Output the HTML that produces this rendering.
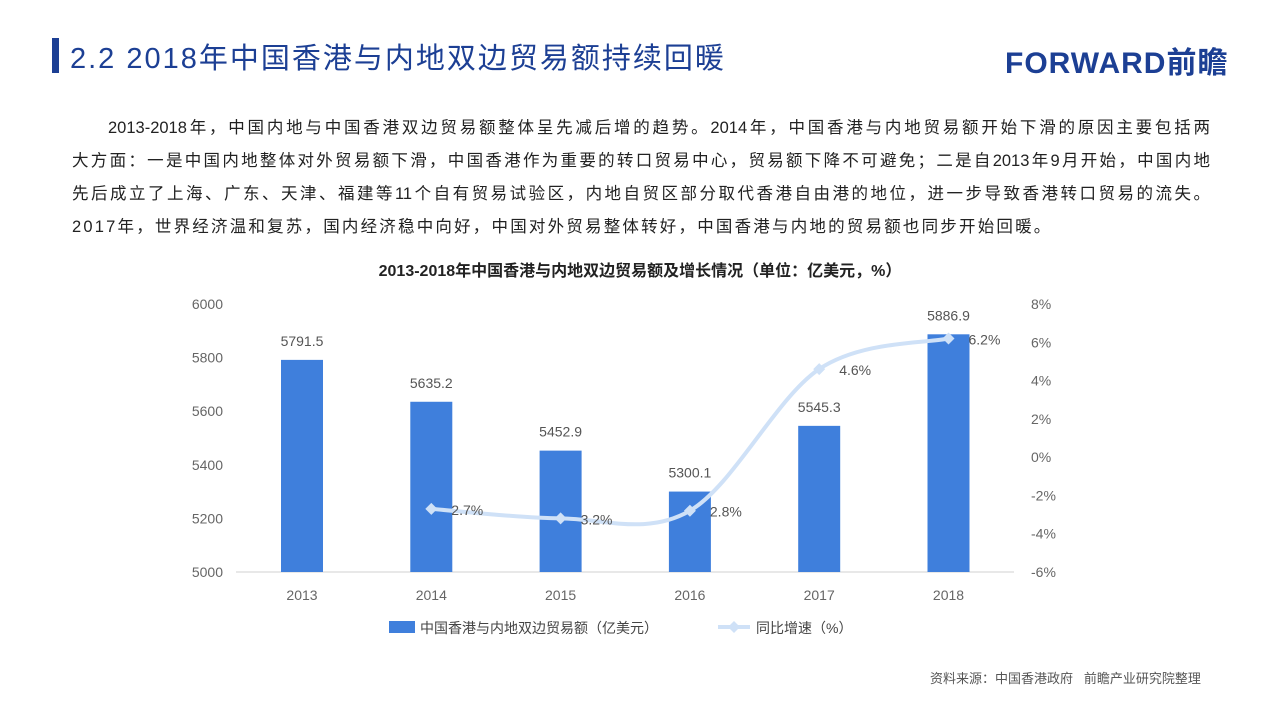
<!DOCTYPE html>
<html><head><meta charset="utf-8">
<style>
body{margin:0;width:1280px;height:705px;background:#fff;overflow:hidden;position:relative;font-family:"Liberation Sans","Noto Sans CJK SC",sans-serif;}
.p{position:absolute;left:72px;width:1138px;font-size:16.5px;color:#222;line-height:33px;top:112px;}
.p div{white-space:nowrap;text-align:justify;text-align-last:justify;}
.p div.last{text-align-last:left;letter-spacing:2.2px;}
</style></head><body>
<div style="position:absolute;left:52px;top:38px;width:7px;height:35px;background:#1c3f94"></div>
<div style="position:absolute;left:70px;top:35px;font-size:29px;color:#1c3f94;letter-spacing:2px;font-family:'Liberation Sans','Noto Sans CJK SC',sans-serif">2.2 2018年中国香港与内地双边贸易额持续回暖</div>
<div style="position:absolute;left:1005px;top:38px;font-size:30px;font-weight:bold;color:#1c3f94;letter-spacing:1px">FORWARD前瞻</div>
<div class="p">
<div style="padding-left:36px">2013-2018年，中国内地与中国香港双边贸易额整体呈先减后增的趋势。2014年，中国香港与内地贸易额开始下滑的原因主要包括两</div>
<div>大方面：一是中国内地整体对外贸易额下滑，中国香港作为重要的转口贸易中心，贸易额下降不可避免；二是自2013年9月开始，中国内地</div>
<div>先后成立了上海、广东、天津、福建等11个自有贸易试验区，内地自贸区部分取代香港自由港的地位，进一步导致香港转口贸易的流失。</div>
<div class="last">2017年，世界经济温和复苏，国内经济稳中向好，中国对外贸易整体转好，中国香港与内地的贸易额也同步开始回暖。</div>
</div>
<div style="position:absolute;left:930px;top:668px;font-size:13px;color:#555">资料来源：中国香港政府&nbsp;&nbsp;&nbsp;前瞻产业研究院整理</div>
<svg id="c" width="1280" height="705" style="position:absolute;left:0;top:0"></svg>
<script>
const categories=["2013","2014","2015","2016","2017","2018"];
const tradeValues=[5791.5,5635.2,5452.9,5300.1,5545.3,5886.9];
const growthCats=["2014","2015","2016","2017","2018"];
const growthValues=[-2.7,-3.2,-2.8,4.6,6.2];
const leftTicks=[5000,5200,5400,5600,5800,6000];
const rightTicks=[-6,-4,-2,0,2,4,6,8];
const svg=document.getElementById('c');
const NS='http://www.w3.org/2000/svg';
function mk(t,a,txt){const e=document.createElementNS(NS,t);for(const k in a)e.setAttribute(k,a[k]);if(txt!==undefined)e.textContent=txt;svg.appendChild(e);return e;}
const x0=302,step=129.3,yTop=304,yBot=572;
const xs=i=>x0+i*step;
const yL=v=>yBot-(v-5000)/1000*(yBot-yTop);
const yR=v=>yBot-(v+6)/14*(yBot-yTop);
const F='"Liberation Sans","Noto Sans CJK SC",sans-serif';
let t=mk('text',{x:640,y:276,'text-anchor':'middle','font-size':16,'font-weight':'bold',fill:'#222','font-family':F},'2013-2018年中国香港与内地双边贸易额及增长情况（单位：亿美元，%）');


mk('line',{x1:236,x2:1014,y1:yBot,y2:yBot,stroke:'#d0d0d0'});
leftTicks.forEach(v=>{const e=mk('text',{x:223,y:yL(v)+5,'text-anchor':'end','font-size':14,fill:'#666','font-family':F},v);

});
rightTicks.forEach(v=>{const e=mk('text',{x:1031,y:yR(v)+5,'font-size':14,fill:'#666','font-family':F},v+'%');

});
categories.forEach((c,i)=>{
const b=mk('rect',{x:xs(i)-21,y:yL(tradeValues[i]),width:42,height:yBot-yL(tradeValues[i]),fill:'#3f7fdc'});


const l=mk('text',{x:xs(i),y:yL(tradeValues[i])-14,'text-anchor':'middle','font-size':14,fill:'#555','font-family':F},tradeValues[i].toFixed(1));


const xl=mk('text',{x:xs(i),y:600,'text-anchor':'middle','font-size':14,fill:'#666','font-family':F},c);


});
const pts=growthCats.map((c,j)=>[xs(categories.indexOf(c)),yR(growthValues[j])]);
let d='M'+pts[0].join(',');
for(let i=0;i<pts.length-1;i++){const p0=pts[Math.max(i-1,0)],p1=pts[i],p2=pts[i+1],p3=pts[Math.min(i+2,pts.length-1)];
const c1=[p1[0]+(p2[0]-p0[0])/6,p1[1]+(p2[1]-p0[1])/6],c2=[p2[0]-(p3[0]-p1[0])/6,p2[1]-(p3[1]-p1[1])/6];
d+=' C'+c1.join(',')+' '+c2.join(',')+' '+p2.join(',');}
const ln=mk('path',{d:d,fill:'none',stroke:'#cfe1f7','stroke-width':4});


pts.forEach((p,j)=>{
const m=mk('path',{d:`M${p[0]-6},${p[1]} L${p[0]},${p[1]-6} L${p[0]+6},${p[1]} L${p[0]},${p[1]+6}Z`,fill:'#cfe1f7'});


const l=mk('text',{x:p[0]+20,y:p[1]+6,'font-size':14,fill:'#555','font-family':F},Math.abs(growthValues[j]).toFixed(1)+'%');


});
const lg1=mk('rect',{x:389,y:621,width:26,height:12,fill:'#3f7fdc'});


const lt1=mk('text',{x:420,y:633,'font-size':14,fill:'#444','font-family':F},'中国香港与内地双边贸易额（亿美元）');


const lg2=mk('line',{x1:718,x2:750,y1:627,y2:627,stroke:'#cfe1f7','stroke-width':4});


mk('path',{d:'M728,627 L734,621 L740,627 L734,633Z',fill:'#cfe1f7'});
const lt2=mk('text',{x:756,y:633,'font-size':14,fill:'#444','font-family':F},'同比增速（%）');


</script>
</body></html>
